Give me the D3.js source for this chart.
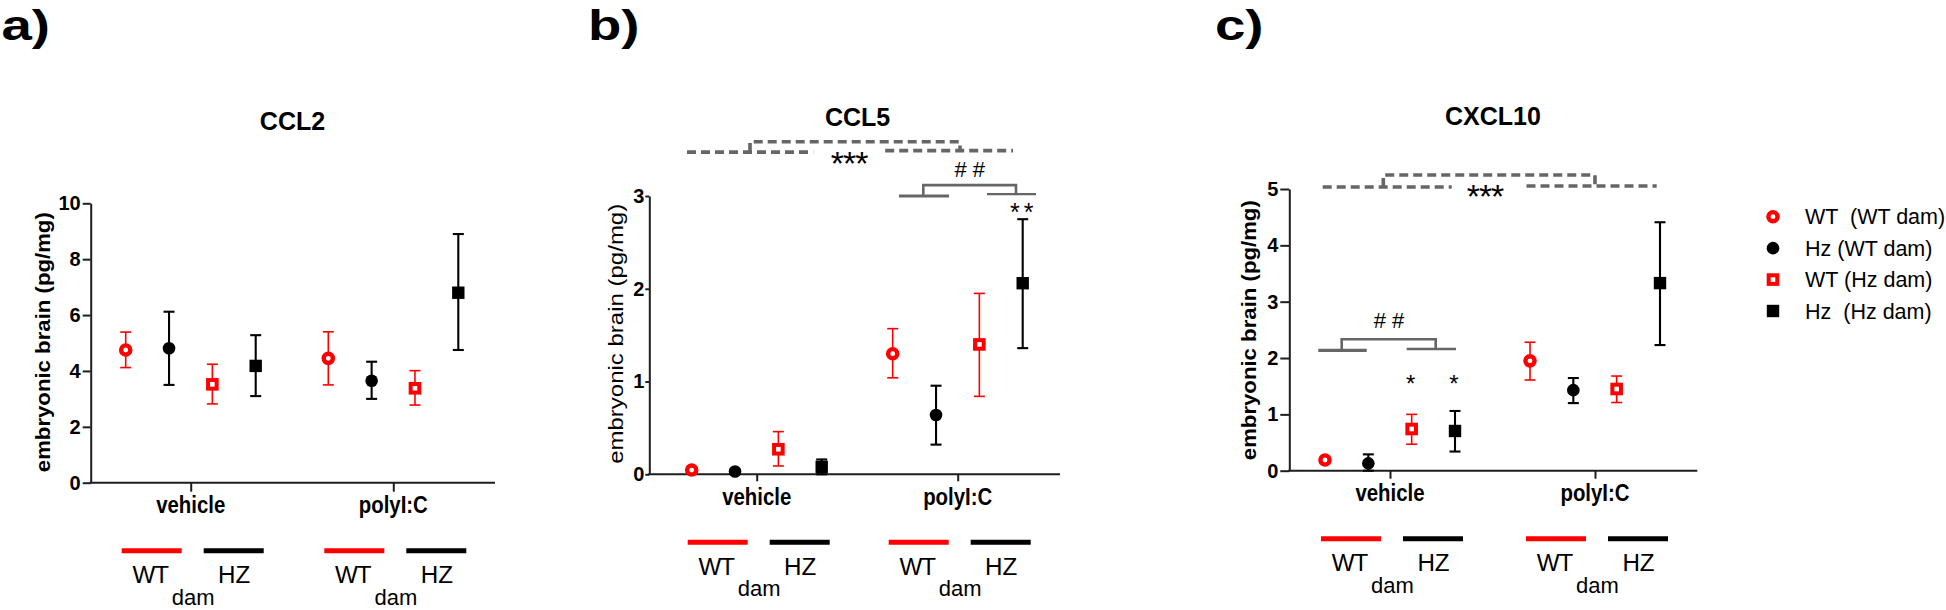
<!DOCTYPE html>
<html><head><meta charset="utf-8">
<script src="https://cdn.jsdelivr.net/npm/d3@7"></script>
<style>
html,body{margin:0;padding:0;background:#fff;}
svg{display:block;font-family:"Liberation Sans",Arial,Helvetica,sans-serif;}
</style></head><body>
<svg id="chart" width="1946" height="610"></svg>
<script>
// ---------------- data ----------------
const treatments = ["vehicle", "polyI:C"];
const series = ["WT (WT dam)", "Hz (WT dam)", "WT (Hz dam)", "Hz (Hz dam)"];
const legendLabels = ["WT  (WT dam)", "Hz (WT dam)", "WT (Hz dam)", "Hz  (Hz dam)"];
const damLabels = ["WT", "HZ"];
const yLabel = "embryonic brain (pg/mg)";

// [series][treatment]  (vehicle, polyI:C)
const ccl2Mean = [[4.75, 4.45], [4.81, 3.65], [3.52, 3.38], [4.18, 6.80]];
const ccl2Low  = [[4.12, 3.50], [3.50, 3.00], [2.82, 2.78], [3.10, 4.75]];
const ccl2High = [[5.39, 5.40], [6.12, 4.33], [4.24, 4.01], [5.28, 8.90]];
const ccl2Ticks = [0, 2, 4, 6, 8, 10];

const ccl5Mean = [[0.046, 1.30], [0.03, 0.64], [0.27, 1.40], [0.08, 2.06]];
const ccl5Low  = [[0.02, 1.04], [0.01, 0.32], [0.09, 0.84], [0.00, 1.36]];
const ccl5High = [[0.07, 1.57], [0.05, 0.955], [0.46, 1.95], [0.16, 2.75]];
const ccl5Ticks = [0, 1, 2, 3];

const cxcl10Mean = [[0.19, 1.95], [0.13, 1.43], [0.74, 1.45], [0.705, 3.33]];
const cxcl10Low  = [[0.15, 1.61], [0.00, 1.20], [0.47, 1.21], [0.34, 2.23]];
const cxcl10High = [[0.23, 2.28], [0.29, 1.645], [1.00, 1.68], [1.06, 4.41]];
const cxcl10Ticks = [0, 1, 2, 3, 4, 5];

// ---------------- helpers ----------------
const svg = d3.select("#chart");
const RED = "#ff0000", BLACK = "#000000", GREY = "#666666", AXIS = "#1e1e1e";

function addText(g, x, y, s, o = {}) {
  const t = g.append("text")
    .attr("transform", `translate(${x},${y}) scale(${o.sx || 1},${o.sy || 1})`)
    .attr("text-anchor", o.anchor || "middle")
    .attr("font-size", o.size || 20)
    .attr("font-weight", o.weight || "normal")
    .attr("fill", o.fill || "#000")
    .style("white-space", "pre")
    .text(s);
  if (o.ls !== undefined) t.attr("letter-spacing", o.ls);
  return t;
}
const lineGen = d3.line();
function dashed(g, pts) {
  g.append("path").attr("d", lineGen(pts)).attr("fill", "none")
    .attr("stroke", GREY).attr("stroke-width", 3.6).attr("stroke-dasharray", "9,5");
}
function solid(g, pts, w = 2.8) {
  g.append("path").attr("d", lineGen(pts)).attr("fill", "none")
    .attr("stroke", GREY).attr("stroke-width", w);
}
function drawMarker(g, si, cx, cy) {
  if (si === 0) {
    g.append("circle").attr("cx", cx).attr("cy", cy).attr("r", 4.6)
      .attr("fill", "#fff").attr("stroke", RED).attr("stroke-width", 4.4);
  } else if (si === 1) {
    g.append("circle").attr("cx", cx).attr("cy", cy).attr("r", 6.3).attr("fill", BLACK);
  } else if (si === 2) {
    g.append("rect").attr("x", cx - 4.3).attr("y", cy - 4.3).attr("width", 8.6).attr("height", 8.6)
      .attr("fill", "#fff").attr("stroke", RED).attr("stroke-width", 4);
  } else {
    g.append("rect").attr("x", cx - 6.2).attr("y", cy - 6.2).attr("width", 12.4).attr("height", 12.4).attr("fill", BLACK);
  }
}
const seriesColor = [RED, BLACK, RED, BLACK];

// ---------------- panels ----------------
const panels = [
  { letter: "a)", letterX: 1.5, title: "CCL2", titleX: 292.5, titleY: 129.6,
    mean: ccl2Mean, low: ccl2Low, high: ccl2High, ticks: ccl2Ticks,
    axisL: 90.7, axisR: 495, cats: [190.7, 393.3], yZero: 482.7, yTopPx: 203.3,
    tickLen: 8, tickPad: 2, xTickLen: 9, labelWeight: "bold", labelX: 44 },
  { letter: "b)", letterX: 588, title: "CCL5", titleX: 857.6, titleY: 125.7,
    mean: ccl5Mean, low: ccl5Low, high: ccl5High, ticks: ccl5Ticks,
    axisL: 649.3, axisR: 1060, cats: [756.7, 957.7], yZero: 474.3, yTopPx: 196,
    tickLen: 4, tickPad: 1, xTickLen: 7, labelWeight: "normal", labelX: 617,
    annot: (g, x, off, y) => {
      const V = x("vehicle"), P = x("polyI:C"), M = (V + P) / 2;
      const yl = y(3.473), yu = y(3.584);
      dashed(g, [[V - 69.7, yl], [M - 44, yl]]);
      dashed(g, [[M + 28, yl - 1.5], [P + 55.3, yl - 1.5]]);
      dashed(g, [[V - 6.7, yl], [V - 6.7, yu], [P + 2.3, yu], [P + 2.3, yl - 1.5]]);
      addText(g, M - 8, yl + 23, "***", { size: 34, ls: -1 });
      const yt = y(3.117), yA = y(3.0), yB = y(3.02);
      solid(g, [[P - 58.7, yA], [P - 8.7, yA]], 3.2);
      solid(g, [[P + 29.3, yB], [P + 78.3, yB]], 2.4);
      solid(g, [[P - 34.4, yA], [P - 34.4, yt], [P + 58.3, yt], [P + 58.3, yB]], 2.6);
      addText(g, P + 15, yt - 8.3, "##", { size: 22, ls: 6 });
      const hz = P + off(series[3]);
      addText(g, hz + 1, y(2.75) + 2, "**", { size: 25, ls: 4 });
    } },
  { letter: "c)", letterX: 1215, title: "CXCL10", titleX: 1493, titleY: 124.8,
    mean: cxcl10Mean, low: cxcl10Low, high: cxcl10High, ticks: cxcl10Ticks,
    axisL: 1289.3, axisR: 1697.3, cats: [1390, 1595], yZero: 470.7, yTopPx: 189,
    tickLen: 9, tickPad: 2, xTickLen: 8, labelWeight: "bold", labelX: 1250,
    annot: (g, x, off, y) => {
      const V = x("vehicle"), P = x("polyI:C"), M = (V + P) / 2;
      const yl = y(5.035), yu = y(5.249);
      dashed(g, [[V - 67.3, yl], [M - 40.8, yl]]);
      dashed(g, [[M + 34, yl - 1], [P + 61.7, yl - 1]]);
      dashed(g, [[V - 6.7, yl], [V - 6.7, yu], [P, yu], [P, yl - 1]]);
      addText(g, M - 7.5, yl + 21, "***", { size: 34, ls: -1 });
      const yt = y(2.332), yA = y(2.137), yB = y(2.16);
      solid(g, [[V - 71.7, yA], [V - 23.3, yA]], 3.2);
      solid(g, [[V + 16.7, yB], [V + 66, yB]], 2.6);
      solid(g, [[V - 48.3, yA], [V - 48.3, yt], [V + 45.7, yt], [V + 45.7, yB]], 2.6);
      addText(g, V + 2, yt - 11.6, "##", { size: 22, ls: 6 });
      [2, 3].forEach(si => {
        addText(g, V + off(series[si]) - 1, y(1.4), "*", { size: 24 });
      });
    } }
];

panels.forEach(p => {
  const g = svg.append("g");
  const x = d3.scalePoint().domain(treatments).range(p.cats);
  const off = d3.scalePoint().domain(series).range([-65, 65]);
  const y = d3.scaleLinear().domain([0, d3.max(p.ticks)]).range([p.yZero, p.yTopPx]);

  // panel letter and title
  addText(g, p.letterX, 39.5, p.letter, { size: 42, weight: "bold", anchor: "start", sx: 1.3 });
  addText(g, p.titleX, p.titleY, p.title, { size: 25, weight: "bold" });

  // y axis
  const ga = g.append("g").attr("transform", `translate(${p.axisL},0)`)
    .call(d3.axisLeft(y).tickValues(p.ticks).tickFormat(d3.format("d"))
      .tickSize(p.tickLen).tickPadding(p.tickPad).tickSizeOuter(0));
  ga.select(".domain").attr("stroke", AXIS).attr("stroke-width", 2);
  ga.selectAll(".tick line").attr("stroke", AXIS).attr("stroke-width", 2);
  ga.selectAll(".tick text").attr("font-size", 20).attr("font-weight", "bold")
    .attr("font-family", '"Liberation Sans", Arial, sans-serif').attr("fill", "#000");

  // x axis
  g.append("line").attr("x1", p.axisL - 1).attr("x2", p.axisR).attr("y1", p.yZero).attr("y2", p.yZero)
    .attr("stroke", AXIS).attr("stroke-width", 2);
  const gx = g.append("g").attr("transform", `translate(0,${p.yZero})`)
    .call(d3.axisBottom(x).tickSize(p.xTickLen).tickSizeOuter(0).tickFormat(""));
  gx.select(".domain").remove();
  gx.selectAll(".tick line").attr("stroke", AXIS).attr("stroke-width", 2);

  // y label
  g.append("text")
    .attr("transform", `translate(${p.labelX + 6},${p.yZero - 140.5}) rotate(-90)`)
    .attr("text-anchor", "middle").attr("font-size", 20).attr("font-weight", p.labelWeight)
    .attr("textLength", 260).attr("lengthAdjust", "spacingAndGlyphs")
    .text(yLabel);

  // category labels + dam legend lines
  treatments.forEach(t => {
    const cx = x(t);
    addText(g, cx, p.yZero + 30.5, t, { size: 20.4, weight: "bold", sy: 1.2 });
    [[-39, RED], [43, BLACK]].forEach(([dx, col]) => {
      g.append("line").attr("x1", cx + dx - 30).attr("x2", cx + dx + 30)
        .attr("y1", p.yZero + 68).attr("y2", p.yZero + 68)
        .attr("stroke", col).attr("stroke-width", 5);
    });
    addText(g, cx - 40.5, p.yZero + 100.5, damLabels[0], { size: 22, sx: 1.1, sy: 1.1, ls: -1 });
    addText(g, cx + 43.5, p.yZero + 100.5, damLabels[1], { size: 22, sx: 1.1, sy: 1.1 });
    addText(g, cx + 2.5, p.yZero + 122, "dam", { size: 22 });
  });

  // error bars and markers
  const pts = [];
  series.forEach((s, si) => treatments.forEach((t, ti) => pts.push({
    si, px: x(t) + off(s), m: p.mean[si][ti], lo: p.low[si][ti], hi: p.high[si][ti]
  })));
  pts.forEach(d => {
    const col = seriesColor[d.si], w = col === RED ? 1.6 : 2.1;
    g.append("line").attr("x1", d.px).attr("x2", d.px).attr("y1", y(d.lo)).attr("y2", y(d.hi))
      .attr("stroke", col).attr("stroke-width", w);
    [d.lo, d.hi].forEach(v => g.append("line").attr("x1", d.px - 5.5).attr("x2", d.px + 5.5)
      .attr("y1", y(v)).attr("y2", y(v)).attr("stroke", col).attr("stroke-width", w));
  });
  pts.forEach(d => drawMarker(g, d.si, d.px, y(d.m)));

  if (p.annot) p.annot(g, x, off, y);
});

// ---------------- legend ----------------
const lg = svg.append("g");
const legendY = d3.scalePoint().domain(series).range([216.7, 311]);
series.forEach((s, si) => {
  const ry = legendY(s);
  drawMarker(lg, si, 1773, ry);
  addText(lg, 1805, ry + 7.5, legendLabels[si], { size: 21.5, anchor: "start" });
});
</script>
</body></html>
